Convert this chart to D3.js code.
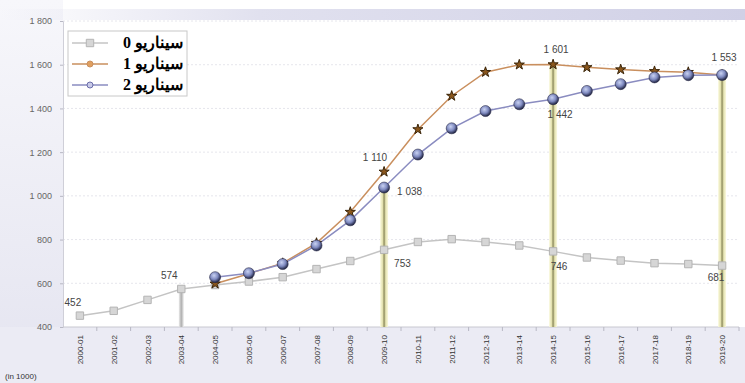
<!DOCTYPE html>
<html>
<head>
<meta charset="utf-8">
<script src="https://cdn.jsdelivr.net/npm/d3@7"></script>
<style>
  body { margin: 0; background: #fff; }
  svg { display: block; font-family: "Liberation Sans", Arial, sans-serif; }
</style>
</head>
<body>
<div class="chart"></div>
<script>
// categories (school years) and the three scenarios, values in 1000
const years = ['2000-01','2001-02','2002-03','2003-04','2004-05','2005-06','2006-07','2007-08','2008-09','2009-10',
               '2010-11','2011-12','2012-13','2013-14','2014-15','2015-16','2016-17','2017-18','2018-19','2019-20']
const scenario0 = [452, 474, 524, 574, 592, 608, 628, 665, 702, 753, 789, 802, 789, 773, 746, 718, 704, 692, 688, 681]
const scenario1 = [null, null, null, null, 598, 644, 692, 784, 926, 1110, 1304, 1457, 1566, 1600, 1601, 1588, 1578, 1570, 1566, 1553]
const scenario2 = [null, null, null, null, 628, 646, 688, 773, 888, 1038, 1189, 1309, 1388, 1419, 1442, 1480, 1511, 1542, 1552, 1553]
const seriesNames = ['سيناريو 0', 'سيناريو 1', 'سيناريو 2']
const yTicks = [400, 600, 800, 1000, 1200, 1400, 1600, 1800]
const unitLabel = '(in 1000)'
// value labels: which series / which year
const valueLabels = [
  {s: 0, i: 0, text: '452'}, {s: 0, i: 3, text: '574'}, {s: 0, i: 9, text: '753'},
  {s: 2, i: 9, text: '1 038'}, {s: 1, i: 9, text: '1 110'}, {s: 1, i: 14, text: '1 601'},
  {s: 2, i: 14, text: '1 442'}, {s: 2, i: 19, text: '1 553'}, {s: 0, i: 14, text: '746'},
  {s: 0, i: 19, text: '681'}
]
// highlighted years (vertical pillars): year index, series whose point is the top
const pillars = [{i: 3, s: 0, gray: true}, {i: 9, s: 2}, {i: 14, s: 1}, {i: 19, s: 2}]

const width = 745, height = 383
const margin = {top: 21, right: 6, bottom: 56, left: 63}
const svg = d3.select('.chart').append('svg').attr('width', width).attr('height', height)
const defs = svg.append('defs')

const leftGrad = defs.append('linearGradient').attr('id', 'leftBg').attr('x1', 0).attr('y1', 0).attr('x2', 0).attr('y2', 1)
leftGrad.append('stop').attr('offset', '0%').attr('stop-color', '#f7f7fb')
leftGrad.append('stop').attr('offset', '100%').attr('stop-color', '#e4e4f0')
const topGrad = defs.append('linearGradient').attr('id', 'topBg').attr('x1', 0).attr('y1', 0).attr('x2', 1).attr('y2', 0)
topGrad.append('stop').attr('offset', '0%').attr('stop-color', '#d4d4e8').attr('stop-opacity', 0)
topGrad.append('stop').attr('offset', '35%').attr('stop-color', '#d4d4e8').attr('stop-opacity', 0.7)
topGrad.append('stop').attr('offset', '100%').attr('stop-color', '#d0d0e6').attr('stop-opacity', 1)
const pillarGrad = defs.append('linearGradient').attr('id', 'pillar').attr('x1', 0).attr('x2', 1)
pillarGrad.append('stop').attr('offset', '0%').attr('stop-color', '#fbfae0')
pillarGrad.append('stop').attr('offset', '30%').attr('stop-color', '#e4e2b0')
pillarGrad.append('stop').attr('offset', '50%').attr('stop-color', '#8e8c5e')
pillarGrad.append('stop').attr('offset', '70%').attr('stop-color', '#e4e2b0')
pillarGrad.append('stop').attr('offset', '100%').attr('stop-color', '#fbfae0')
const grayPillar = defs.append('linearGradient').attr('id', 'grayPillar').attr('x1', 0).attr('x2', 1)
grayPillar.append('stop').attr('offset', '0%').attr('stop-color', '#ececec')
grayPillar.append('stop').attr('offset', '50%').attr('stop-color', '#b0b0b0')
grayPillar.append('stop').attr('offset', '100%').attr('stop-color', '#ececec')
const ball = defs.append('radialGradient').attr('id', 'ball').attr('cx', '40%').attr('cy', '35%').attr('r', '65%')
ball.append('stop').attr('offset', '0%').attr('stop-color', '#c9d2f2')
ball.append('stop').attr('offset', '55%').attr('stop-color', '#7f8ac0')
ball.append('stop').attr('offset', '100%').attr('stop-color', '#1e2240')

// backgrounds
svg.append('rect').attr('width', width).attr('height', height).attr('fill', '#fff')
svg.append('rect').attr('x', 0).attr('y', 0).attr('width', margin.left).attr('height', height).attr('fill', 'url(#leftBg)')
svg.append('rect').attr('x', 0).attr('y', height - margin.bottom).attr('width', width).attr('height', margin.bottom).attr('fill', '#ebebf4')
svg.append('rect').attr('x', 0).attr('y', 9).attr('width', width).attr('height', 11).attr('fill', 'url(#topBg)')

const x = d3.scaleBand().domain(years).range([margin.left, width - margin.right])
const y = d3.scaleLinear().domain([400, 1800]).range([height - margin.bottom, margin.top])
const cx = d => x(d) + x.bandwidth() / 2
const fmt = d3.formatLocale({decimal: ',', thousands: ' ', grouping: [3], currency: ['', '']}).format(',d')

// grid
svg.append('g').selectAll('line').data(yTicks.slice(1)).join('line')
  .attr('x1', margin.left).attr('x2', width - margin.right)
  .attr('y1', d => y(d)).attr('y2', d => y(d))
  .attr('stroke', '#e6e6ec').attr('stroke-dasharray', '2,2')

// y axis
const yAxis = svg.append('g').attr('transform', `translate(${margin.left},0)`)
  .call(d3.axisLeft(y).tickValues(yTicks).tickFormat(fmt).tickSize(3).tickPadding(8))
yAxis.select('.domain').attr('stroke', '#cfcfd8')
yAxis.selectAll('.tick line').attr('stroke', '#b8b8c4')
yAxis.selectAll('text').attr('fill', '#666').attr('font-size', 9)

// x axis, ticks at category boundaries
const xAxisG = svg.append('g').attr('transform', `translate(0,${height - margin.bottom})`)
xAxisG.append('line').attr('x1', margin.left).attr('x2', width - margin.right).attr('stroke', '#c8c8d0')
xAxisG.selectAll('.bt').data(years).join('line').attr('class', 'bt')
  .attr('x1', d => x(d) + x.bandwidth()).attr('x2', d => x(d) + x.bandwidth())
  .attr('y1', 0).attr('y2', 4).attr('stroke', '#b8b8c4')
xAxisG.selectAll('text').data(years).join('text')
  .attr('transform', d => `translate(${cx(d) + 3},8) rotate(-90)`)
  .attr('text-anchor', 'end').attr('font-size', 8).attr('fill', '#333')
  .text(d => d)

svg.append('text').attr('x', 5).attr('y', 379).attr('font-size', 8).attr('fill', '#333').text(unitLabel)

// pillars
const allSeries = [scenario0, scenario1, scenario2]
svg.append('g').selectAll('rect').data(pillars).join('rect')
  .attr('x', d => cx(years[d.i]) - (d.gray ? 2.5 : 4))
  .attr('width', d => d.gray ? 5 : 8)
  .attr('y', d => y(allSeries[d.s][d.i]))
  .attr('height', d => y(400) - y(allSeries[d.s][d.i]))
  .attr('fill', d => d.gray ? 'url(#grayPillar)' : 'url(#pillar)')

// lines
const line = d3.line().defined(d => d.v != null).x(d => cx(d.year)).y(d => y(d.v))
const toPts = arr => arr.map((v, i) => ({year: years[i], v}))
const styles = [
  {stroke: '#c4c4c4'}, {stroke: '#c98f5e'}, {stroke: '#8a8cc0'}
]
allSeries.forEach((arr, k) => {
  svg.append('path').datum(toPts(arr)).attr('d', line)
    .attr('fill', 'none').attr('stroke', styles[k].stroke).attr('stroke-width', 1.5)
})

// markers
const sym0 = d3.symbol().type(d3.symbolSquare).size(55)
const sym1 = d3.symbol().type(d3.symbolStar).size(32)
svg.append('g').selectAll('path').data(toPts(scenario0)).join('path')
  .attr('transform', d => `translate(${cx(d.year)},${y(d.v)})`)
  .attr('d', sym0).attr('fill', '#d6d6d6').attr('stroke', '#b4b4b4')
svg.append('g').selectAll('path').data(toPts(scenario1).filter(d => d.v != null)).join('path')
  .attr('transform', d => `translate(${cx(d.year)},${y(d.v)})`)
  .attr('d', sym1).attr('fill', '#8a561c').attr('stroke', '#3a2408').attr('stroke-width', 1)
svg.append('g').selectAll('circle').data(toPts(scenario2).filter(d => d.v != null)).join('circle')
  .attr('cx', d => cx(d.year)).attr('cy', d => y(d.v)).attr('r', 5.5)
  .attr('fill', 'url(#ball)').attr('stroke', '#2a2c4a').attr('stroke-width', 0.6)

// value labels
const labelPos = {
  '0-0': [-7, -10, 'middle'], '0-3': [-12, -10, 'middle'], '0-9': [10, 17, 'start'],
  '2-9': [13, 7, 'start'], '1-9': [3, -11, 'end'], '1-14': [3, -11, 'middle'],
  '2-14': [7, 19, 'middle'], '2-19': [2, -14, 'middle'], '0-14': [6, 19, 'middle'],
  '0-19': [-6, 15, 'middle']
}
svg.append('g').selectAll('text').data(valueLabels).join('text')
  .attr('x', d => cx(years[d.i]) + labelPos[d.s + '-' + d.i][0])
  .attr('y', d => y(allSeries[d.s][d.i]) + labelPos[d.s + '-' + d.i][1])
  .attr('text-anchor', d => labelPos[d.s + '-' + d.i][2])
  .attr('font-size', 10).attr('fill', '#444')
  .text(d => d.text)

// legend
const legend = svg.append('g').attr('transform', 'translate(68,31)')
legend.append('rect').attr('width', 119).attr('height', 65).attr('fill', '#fff').attr('stroke', '#c8c8c8')
const legendRows = legend.selectAll('g').data(seriesNames).join('g')
  .attr('transform', (d, i) => `translate(0,${12 + i * 21})`)
legendRows.append('line').attr('x1', 4).attr('x2', 40).attr('stroke', (d, i) => styles[i].stroke).attr('stroke-width', 1.5)
legendRows.filter((d, i) => i === 0).append('path').attr('transform', 'translate(22,0)').attr('d', sym0).attr('fill', '#d6d6d6').attr('stroke', '#b4b4b4')
legendRows.filter((d, i) => i === 1).append('circle').attr('cx', 22).attr('r', 3).attr('fill', '#e0a060').attr('stroke', '#c98f5e')
legendRows.filter((d, i) => i === 2).append('circle').attr('cx', 22).attr('r', 3).attr('fill', '#c8cae8').attr('stroke', '#6a6ca8')
legendRows.append('text').attr('x', 115).attr('y', 5).attr('text-anchor', 'start')
  .attr('direction', 'rtl').attr('font-family', '"Liberation Serif", "DejaVu Serif", serif')
  .attr('font-size', 16).attr('font-weight', 'bold').attr('fill', '#000')
  .text(d => d)
</script>
</body>
</html>
